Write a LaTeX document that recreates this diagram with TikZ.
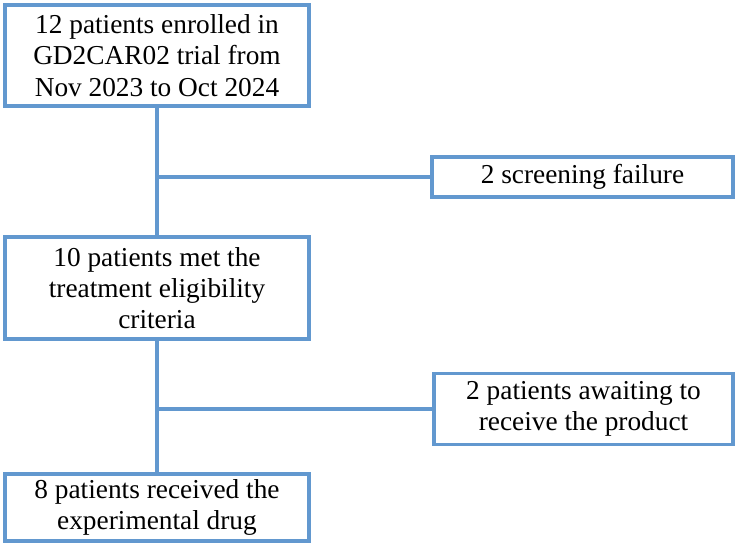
\documentclass[tikz,border=0pt]{standalone}
\usepackage{fontspec}
\setmainfont{Liberation Serif}
\definecolor{boxblue}{RGB}{98,152,207}
\begin{document}
\begin{tikzpicture}[x=0.75pt,y=-0.75pt,
  flowbox/.style={draw=boxblue,line width=2.4pt,fill=white,align=center,
    inner sep=0pt,font=\fontsize{20.5}{23.5}\selectfont},
  link/.style={draw=boxblue,line width=2.4pt}]
\useasboundingbox (0,0) rectangle (740,547);
\node[flowbox,minimum width=228pt,minimum height=75.75pt] (b1) at (157,55.5)
  {12 patients enrolled in\\GD2CAR02 trial from\\Nov 2023 to Oct 2024};
\node[flowbox,minimum width=225.75pt,minimum height=30pt] (b2) at (582.5,177)
  {2 screening failure};
\node[flowbox,minimum width=228pt,minimum height=76.5pt] (b3) at (157,288)
  {10 patients met the\\treatment eligibility\\criteria};
\node[flowbox,minimum width=224.25pt,minimum height=53.25pt] (b4) at (583.5,409)
  {2 patients awaiting to\\receive the product};
\node[flowbox,minimum width=228pt,minimum height=50.25pt] (b5) at (157,507.5)
  {8 patients received the\\experimental drug};
\draw[link] (b1.south) -- (b3.north);
\draw[link] (b3.south) -- (b5.north);
\draw[link] (b2.west -| b1.south) -- (b2.west);
\draw[link] (b4.west -| b3.south) -- (b4.west);
\end{tikzpicture}
\end{document}
